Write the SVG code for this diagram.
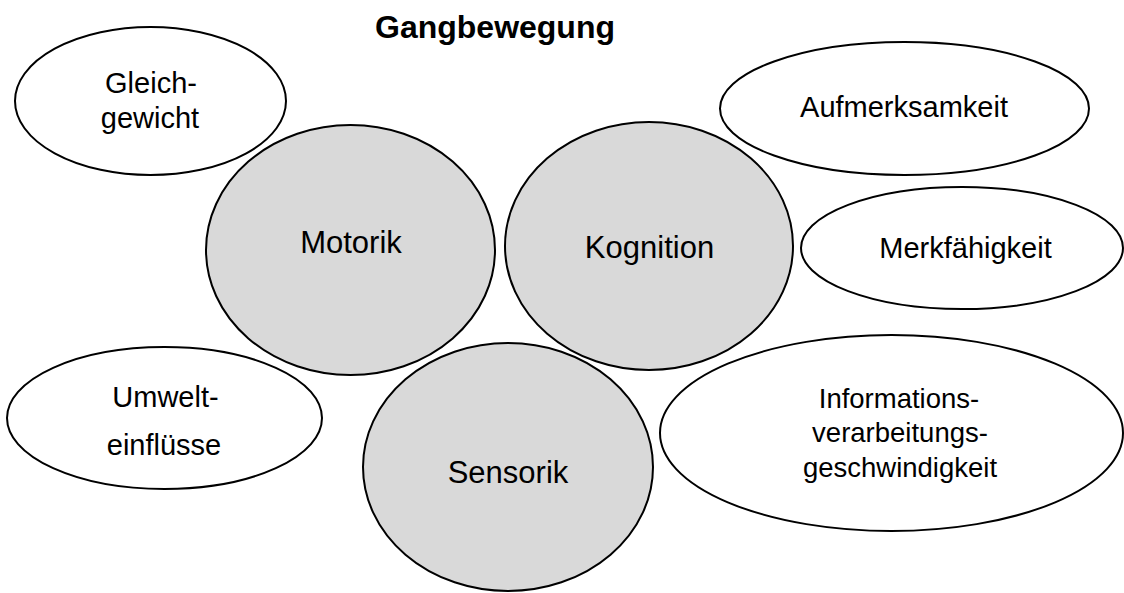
<svg xmlns="http://www.w3.org/2000/svg" width="1124" height="593" viewBox="0 0 1124 593">
<style>
.o{fill:#fff;stroke:#000;stroke-width:2}
.i{fill:#d9d9d9;stroke:#000;stroke-width:2}
text{font-family:"Liberation Sans",Arial,sans-serif;fill:#000;text-anchor:middle}
.t{font-size:32px;font-weight:bold}
.l{font-size:29px}
.c{font-size:31px}
.s{font-size:27.5px}
</style>
<rect width="1124" height="593" fill="#fff"/>
<g id="connectors"/>
<text class="t" x="495" y="38">Gangbewegung</text>
<g id="gleichgewicht"><ellipse class="o" cx="150.5" cy="101" rx="135.5" ry="74"/><text class="l" x="151" y="93">Gleich-</text><text class="l" x="150" y="128">gewicht</text></g>
<g id="motorik"><ellipse class="i" cx="350.5" cy="250" rx="144.5" ry="125"/><text class="c" x="351" y="253">Motorik</text></g>
<g id="kognition"><ellipse class="i" cx="649" cy="246" rx="144" ry="124"/><text class="c" x="649.5" y="258">Kognition</text></g>
<g id="aufmerksamkeit"><ellipse class="o" cx="904.5" cy="108.5" rx="184.5" ry="66.5"/><text class="l" x="904" y="117">Aufmerksamkeit</text></g>
<g id="merkfaehigkeit"><ellipse class="o" cx="962" cy="248" rx="161" ry="61"/><text class="l" x="965.5" y="258">Merkfähigkeit</text></g>
<g id="umwelteinfluesse"><ellipse class="o" cx="164.5" cy="418" rx="157.5" ry="71"/><text class="l" x="165.5" y="407">Umwelt-</text><text class="l" x="164" y="455">einflüsse</text></g>
<g id="sensorik"><ellipse class="i" cx="508" cy="467" rx="145" ry="124"/><text class="c" x="508" y="483">Sensorik</text></g>
<g id="informationsverarbeitungsgeschwindigkeit"><ellipse class="o" cx="891.5" cy="433" rx="231.5" ry="98"/><text class="s" x="899" y="408">Informations-</text><text class="s" x="900" y="442">verarbeitungs-</text><text class="s" x="900" y="477">geschwindigkeit</text></g>
</svg>
